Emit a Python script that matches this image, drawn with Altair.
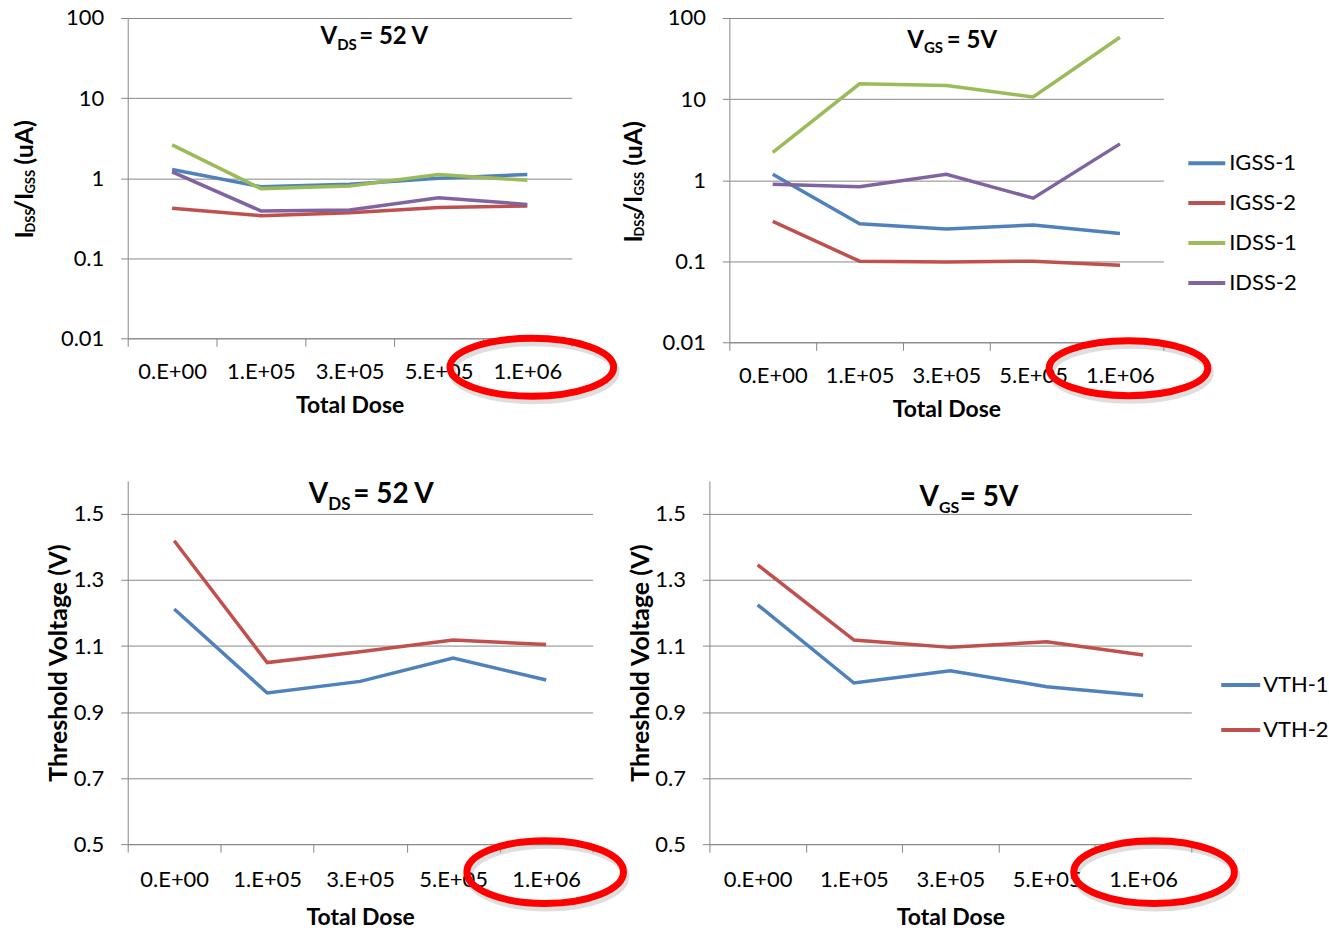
import altair as alt
import pandas as pd

# ---------------- data ----------------
doses = ["0.E+00", "1.E+05", "3.E+05", "5.E+05", "1.E+06"]

leak_series = ["IGSS-1", "IGSS-2", "IDSS-1", "IDSS-2"]
leak_colors = ["#4F81BD", "#C0504D", "#9BBB59", "#8064A2"]

# V_DS = 52 V  (uA)
igss1_vds = [1.28, 0.78, 0.84, 1.00, 1.11]
igss2_vds = [0.42, 0.34, 0.37, 0.43, 0.45]
idss1_vds = [2.60, 0.74, 0.80, 1.11, 0.94]
idss2_vds = [1.20, 0.39, 0.40, 0.57, 0.47]

# V_GS = 5 V  (uA)
igss1_vgs = [1.18, 0.29, 0.25, 0.28, 0.22]
igss2_vgs = [0.31, 0.100, 0.098, 0.100, 0.089]
idss1_vgs = [2.2, 15.4, 14.7, 10.6, 58.0]
idss2_vgs = [0.89, 0.83, 1.18, 0.60, 2.8]

vth_series = ["VTH-1", "VTH-2"]
vth_colors = ["#4F81BD", "#C0504D"]

# threshold voltage (V)
vth1_vds = [1.212, 0.958, 0.993, 1.064, 0.997]
vth2_vds = [1.419, 1.050, 1.083, 1.118, 1.105]
vth1_vgs = [1.225, 0.988, 1.025, 0.977, 0.950]
vth2_vgs = [1.346, 1.118, 1.096, 1.113, 1.073]

leak_ticks = [0.01, 0.1, 1, 10, 100]
vth_ticks = [0.5, 0.7, 0.9, 1.1, 1.3, 1.5]

# ---------------- style ----------------
FONT = "Lato"
GRID = "#878787"
one = pd.DataFrame({"k": [0]})


def long_df(names, arrays):
    rows = []
    for name, vals in zip(names, arrays):
        for d, v in zip(doses, vals):
            rows.append({"series": name, "dose": d, "value": v})
    return pd.DataFrame(rows)


def txt(s, x, y, size, align="left", angle=0):
    return alt.Chart(one).mark_text(
        text=s, align=align, baseline="alphabetic", font=FONT, fontSize=size,
        fontWeight="bold", angle=angle, color="black"
    ).encode(x=alt.value(x), y=alt.value(y))


def anchor(x, y):
    # invisible (white) one-pixel rule that fixes the extent of the layout
    return alt.Chart(one).mark_rule(color="white", strokeWidth=1).encode(
        x=alt.value(x), x2=alt.value(x + 1), y=alt.value(y))


def ellipse_path(r):
    k = 0.5523
    return (f"M -1 0 C -1 {-k*r:.4f} {-k:.4f} {-r:.4f} 0 {-r:.4f} "
            f"C {k:.4f} {-r:.4f} 1 {-k*r:.4f} 1 0 "
            f"C 1 {k*r:.4f} {k:.4f} {r:.4f} 0 {r:.4f} "
            f"C {-k:.4f} {r:.4f} -1 {k*r:.4f} -1 0 Z")


def make_x(label_pad, title_pad):
    return alt.X(
        "dose:N",
        scale=alt.Scale(type="band", domain=doses, paddingInner=0, paddingOuter=0),
        bandPosition=0.5,
        axis=alt.Axis(
            title="Total Dose", titleFont=FONT, titleFontSize=23, titleFontWeight="bold",
            titleColor="black", titlePadding=title_pad,
            labelFont=FONT, labelFontSize=22, labelColor="black", labelAngle=0,
            labelPadding=label_pad, tickBand="extent", tickSize=8, tickColor=GRID,
            domainColor=GRID, grid=False, zindex=0,
        ),
    )


def panel(df, names, colors, width, height, yscale, yaxis, legend,
          ell, extra, label_pad=15, title_pad=12):
    x = make_x(label_pad, title_pad)
    lines = alt.Chart(df).mark_line(strokeWidth=3.5).encode(
        x=x,
        y=alt.Y("value:Q", scale=yscale, axis=yaxis),
        color=alt.Color("series:N", scale=alt.Scale(domain=names, range=colors),
                        legend=legend),
        detail="series:N",
    )
    rx, ry, ey, xoff = ell
    path = ellipse_path(ry / rx)
    size = (2 * rx) ** 2
    edf = pd.DataFrame({"dose": ["1.E+06"]})
    shadow = alt.Chart(edf).mark_point(
        shape=path, size=size, filled=False, color="#808080", strokeWidth=8,
        opacity=0.25, xOffset=xoff + 2, yOffset=4
    ).encode(x=x, y=alt.value(ey))
    red = alt.Chart(edf).mark_point(
        shape=path, size=size, filled=False, color="#FF0000", strokeWidth=7,
        opacity=1, xOffset=xoff
    ).encode(x=x, y=alt.value(ey))
    return alt.layer(lines, shadow, red, *extra).properties(width=width, height=height)


def yaxis_leak():
    return alt.Axis(
        values=leak_ticks, format="~g", title=None, grid=True, gridColor=GRID,
        domainColor=GRID, tickColor=GRID, tickSize=7, labelPadding=17,
        labelFont=FONT, labelFontSize=22, labelColor="black",
    )


def yaxis_vth(title_pad):
    return alt.Axis(
        values=vth_ticks, format=".1f", title="Threshold Voltage (V)",
        titleFont=FONT, titleFontSize=25, titleFontWeight="bold", titleColor="black",
        titlePadding=title_pad, grid=True, gridColor=GRID, domainColor=GRID,
        tickColor=GRID, tickSize=7, labelPadding=17, labelFont=FONT,
        labelFontSize=22, labelColor="black",
    )


leak_scale = alt.Scale(type="log", domain=[0.01, 100])
vth_scale = alt.Scale(domain=[0.5, 1.6], zero=False, nice=False)

# ---------------- panel 1 : I vs dose, V_DS = 52 V ----------------
p1_extra = [
    txt("V", 210, 26, 24, align="right"),
    txt("DS", 210, 32, 15),
    txt("= 52 V", 232, 26, 24),
    txt("I", -95, 221, 25, angle=270),
    txt("DSS", -93, 215, 13, angle=270),
    txt("/I", -95, 194, 25, angle=270),
    txt("GSS", -93, 176, 13, angle=270),
    txt("(uA)", -95, 147, 25, angle=270),
    anchor(-127, -16),
    anchor(0, 412),
]
p1 = panel(long_df(leak_series, [igss1_vds, igss2_vds, idss1_vds, idss2_vds]),
           leak_series, leak_colors, 445, 321, leak_scale, yaxis_leak(), None,
           (82, 29, 350, 4.5), p1_extra)

# ---------------- panel 2 : I vs dose, V_GS = 5 V ----------------
p2_extra = [
    txt("V", 195, 30, 24, align="right"),
    txt("GS", 195, 35, 15),
    txt("= 5V", 218, 30, 24),
    txt("I", -88, 225, 25, angle=270),
    txt("DSS", -86, 219, 13, angle=270),
    txt("/I", -88, 197, 25, angle=270),
    txt("GSS", -86, 178, 13, angle=270),
    txt("(uA)", -88, 148, 25, angle=270),
]
leg2 = alt.Legend(
    title=None, orient="none", legendX=458, legendY=125, symbolType="stroke",
    symbolSize=1369, symbolStrokeWidth=4, labelFont=FONT, labelFontSize=22,
    labelColor="black", labelOffset=2, rowPadding=8, padding=0,
)
p2 = panel(long_df(leak_series, [igss1_vgs, igss2_vgs, idss1_vgs, idss2_vgs]),
           leak_series, leak_colors, 435, 325, leak_scale, yaxis_leak(), leg2,
           (79.5, 27.5, 351, 8.5), p2_extra)

# ---------------- panel 3 : VTH, V_DS = 52 V ----------------
p3_extra = [
    txt("V", 201, 22, 28, align="right"),
    txt("DS", 201, 29, 17),
    txt("= 52 V", 226, 22, 28),
    anchor(0, -50),
]
p3 = panel(long_df(vth_series, [vth1_vds, vth2_vds]), vth_series, vth_colors,
           466, 364, vth_scale, yaxis_vth(2), None, (78.5, 31.5, 392, -1), p3_extra,
           label_pad=17, title_pad=17)

# ---------------- panel 4 : VTH, V_GS = 5 V ----------------
p4_extra = [
    txt("V", 230, 25, 28, align="right"),
    txt("GS", 230, 32, 16),
    txt("= 5V", 251, 25, 28),
]
leg4 = alt.Legend(
    title=None, orient="none", legendX=511, legendY=183, symbolType="stroke",
    symbolSize=1521, symbolStrokeWidth=4, labelFont=FONT, labelFontSize=22,
    labelColor="black", labelOffset=1, rowPadding=12, padding=0,
)
p4 = panel(long_df(vth_series, [vth1_vgs, vth2_vgs]), vth_series, vth_colors,
           483, 364, vth_scale, yaxis_vth(1), leg4, (80.5, 31.5, 392, 11), p4_extra,
           label_pad=17, title_pad=17)

row1 = alt.hconcat(p1, p2, spacing=158, bounds="flush").resolve_scale(
    x="independent", y="independent", color="independent")
row2 = alt.hconcat(p3, p4, spacing=117, bounds="flush").resolve_scale(
    x="independent", y="independent", color="independent")

chart = (
    alt.vconcat(row1, row2, spacing=0)
    .resolve_scale(x="independent", y="independent", color="independent")
    .properties(padding=0, background="white")
    .configure_view(strokeWidth=0)
)

chart.save("out.html", embed_options={"renderer": "svg", "actions": False})
